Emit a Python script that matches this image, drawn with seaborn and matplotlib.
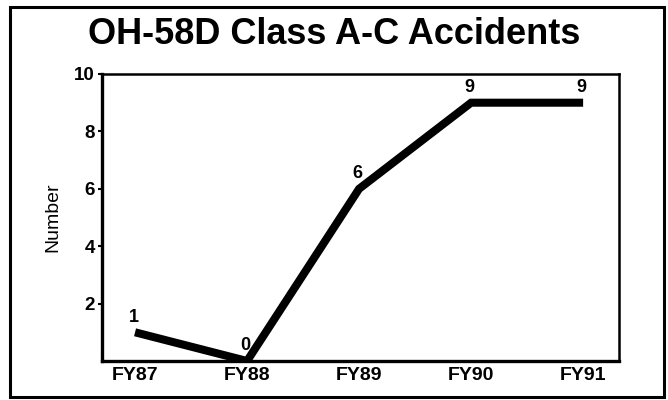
"""Recreate the OH-58D Class A-C accidents line chart."""

import matplotlib

matplotlib.use("Agg")

import matplotlib.pyplot as plt
import pandas as pd
import seaborn as sns
from matplotlib.patches import Rectangle

years = ["FY87", "FY88", "FY89", "FY90", "FY91"]
accidents = [1, 0, 6, 9, 9]
y_ticks = [2, 4, 6, 8, 10]


def main() -> None:
    sns.set_style("white")
    plt.rcParams["font.family"] = ["Liberation Sans", "DejaVu Sans"]
    for key in ["text.color", "axes.labelcolor", "xtick.color", "ytick.color"]:
        plt.rcParams[key] = "black"

    frame = pd.DataFrame({"year": years, "accidents": accidents})

    fig = plt.figure(figsize=(6.68, 4.0), dpi=100)
    ax = fig.add_axes([0.1527, 0.0975, 0.7739, 0.7175])

    sns.lineplot(
        data=frame, x="year", y="accidents", ax=ax, color="black",
        linewidth=5.8, solid_joinstyle="miter", solid_capstyle="butt",
    )
    for i, val in enumerate(frame["accidents"]):
        ax.annotate(
            str(val), (i, val), xytext=(-1, 11), textcoords="offset points",
            ha="center", va="center", fontsize=13, fontweight="bold",
        )

    ax.set_xlim(-0.295, 4.32)
    ax.set_ylim(0, 10)
    ax.set_yticks(y_ticks)
    ax.set_yticklabels([str(t) for t in y_ticks], fontsize=13.5, fontweight="bold")
    ax.set_xticks(range(len(years)))
    ax.set_xticklabels(years, fontsize=14, fontweight="bold")
    ax.tick_params(axis="x", length=0, pad=4)
    ax.tick_params(axis="y", length=3, width=1.5, pad=2, left=True, direction="out")
    ax.set_xlabel("")
    ax.set_ylabel("Number", fontsize=14, labelpad=9)

    for side in ["left", "bottom"]:
        ax.spines[side].set_linewidth(2.4)
    for side in ["top", "right"]:
        ax.spines[side].set_linewidth(1.8)
    for spine in ax.spines.values():
        spine.set_color("black")
        spine.set_visible(True)

    fig.text(0.5, 0.914, "OH-58D Class A-C Accidents", ha="center", va="center",
             fontsize=26, fontweight="bold")
    fig.patches.append(Rectangle((0.015, 0.0075), 0.979, 0.975, transform=fig.transFigure,
                                 fill=False, edgecolor="black", linewidth=2.2))

    fig.savefig("out.png", dpi=100)
    plt.close(fig)


if __name__ == "__main__":
    main()
